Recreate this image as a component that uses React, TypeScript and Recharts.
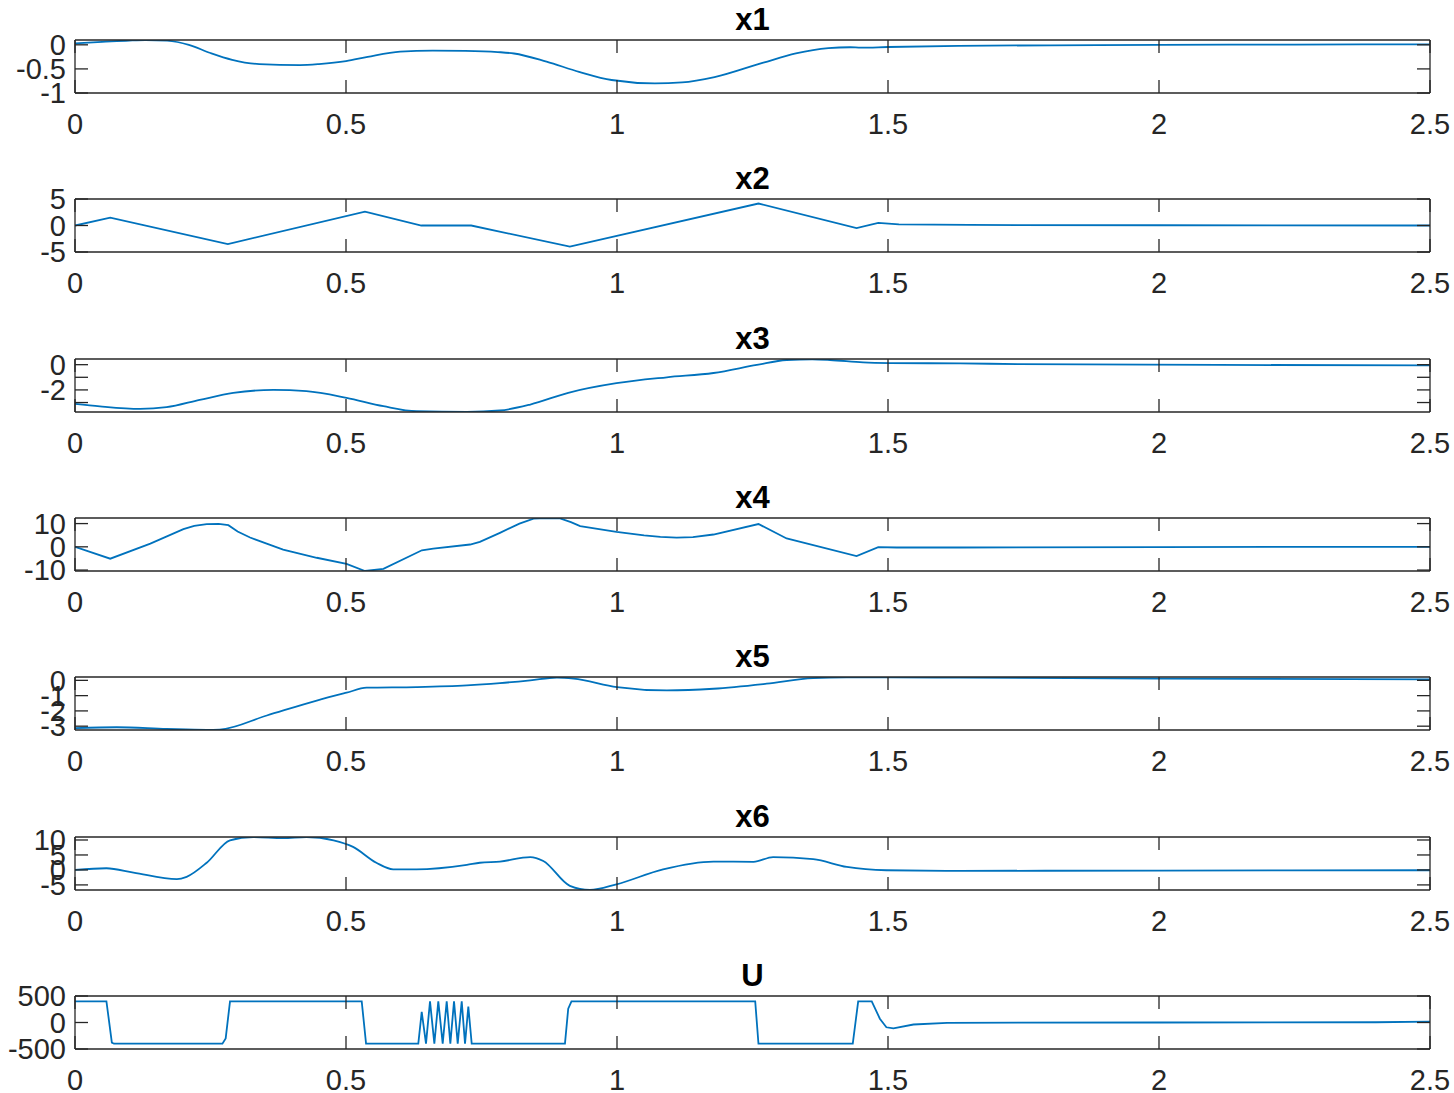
import React from "react";
import { LineChart, Line, XAxis, YAxis, Label } from "recharts";

// shared time axis ticks
const xTicks = [0, 0.5, 1, 1.5, 2, 2.5];

// x1
const x1Time = [0, 0.05, 0.1, 0.13, 0.17, 0.21, 0.25, 0.29, 0.34, 0.415, 0.45, 0.5, 0.54, 0.6, 0.66, 0.72, 0.78, 0.81, 0.87, 0.93, 0.99, 1.07, 1.12, 1.18, 1.27, 1.33, 1.39, 1.43, 1.45, 1.5, 1.63, 1.8, 2.0, 2.25, 2.5];
const x1Vals = [0.03, 0.06, 0.09, 0.1, 0.085, 0.0, -0.17, -0.31, -0.4, -0.42, -0.4, -0.34, -0.25, -0.14, -0.12, -0.125, -0.15, -0.18, -0.35, -0.56, -0.73, -0.8, -0.78, -0.67, -0.37, -0.18, -0.07, -0.05, -0.06, -0.045, -0.02, -0.01, 0.0, 0.005, 0.01];

// x2
const x2Time = [0, 0.065, 0.282, 0.535, 0.639, 0.731, 0.913, 1.261, 1.442, 1.482, 1.52, 1.65, 2.0, 2.5];
const x2Vals = [0, 1.5, -3.5, 2.6, 0, 0, -4.0, 4.15, -0.5, 0.5, 0.2, 0.1, 0.05, 0];

// x3
const x3Time = [0, 0.046, 0.12, 0.169, 0.23, 0.292, 0.366, 0.427, 0.501, 0.569, 0.63, 0.723, 0.784, 0.84, 0.91, 0.999, 1.092, 1.178, 1.258, 1.313, 1.36, 1.393, 1.454, 1.504, 1.633, 1.74, 2.11, 2.5];
const x3Vals = [-3.1, -3.3, -3.5, -3.37, -2.79, -2.24, -2.0, -2.1, -2.63, -3.29, -3.69, -3.74, -3.63, -3.16, -2.23, -1.47, -1.0, -0.66, -0.02, 0.37, 0.42, 0.37, 0.18, 0.13, 0.1, 0.05, -0.02, -0.05];

// x4
const x4Time = [0, 0.065, 0.139, 0.2, 0.22, 0.243, 0.265, 0.283, 0.3, 0.323, 0.384, 0.446, 0.501, 0.535, 0.569, 0.64, 0.661, 0.729, 0.747, 0.784, 0.82, 0.846, 0.87, 0.895, 0.915, 0.932, 0.999, 1.05, 1.08, 1.11, 1.14, 1.178, 1.261, 1.313, 1.442, 1.482, 1.516, 1.633, 2.0, 2.5];
const x4Vals = [0, -5.1, 1.4, 7.6, 9.0, 9.8, 9.9, 9.3, 6.6, 4.0, -1.2, -4.7, -7.3, -10.4, -9.5, -1.5, -0.8, 1.0, 2.1, 6.0, 10.0, 12.1, 12.4, 12.2, 10.6, 8.9, 6.4, 4.9, 4.3, 4.0, 4.2, 5.3, 9.8, 3.6, -4.0, -0.1, -0.3, -0.3, -0.1, 0];

// x5
const x5Time = [0, 0.077, 0.169, 0.243, 0.267, 0.354, 0.446, 0.501, 0.538, 0.63, 0.723, 0.784, 0.84, 0.889, 0.92, 1.0, 1.092, 1.178, 1.276, 1.362, 1.424, 1.504, 1.633, 2.0, 2.5];
const x5Vals = [-3.13, -3.07, -3.18, -3.24, -3.22, -2.3, -1.32, -0.81, -0.48, -0.44, -0.33, -0.18, 0.0, 0.18, 0.11, -0.44, -0.66, -0.55, -0.22, 0.15, 0.2, 0.2, 0.18, 0.12, 0.07];

// x6
const x6Time = [0, 0.058, 0.108, 0.188, 0.206, 0.243, 0.286, 0.329, 0.384, 0.427, 0.477, 0.513, 0.556, 0.587, 0.63, 0.723, 0.747, 0.784, 0.84, 0.864, 0.913, 0.95, 0.999, 1.085, 1.178, 1.252, 1.288, 1.362, 1.424, 1.497, 1.633, 2.0, 2.5];
const x6Vals = [0, 0.56, -0.9, -3.1, -2.3, 2.4, 9.9, 11, 10.6, 11, 9.9, 7.7, 2.4, 0.2, 0.2, 1.7, 2.4, 2.8, 4.3, 3.0, -5.3, -6.7, -4.8, 0.2, 2.8, 2.7, 4.3, 3.6, 1.0, -0.1, -0.3, -0.2, -0.1];

// U (control input)
const uTime = [0, 0.058, 0.068, 0.072, 0.272, 0.278, 0.286, 0.529, 0.537, 0.6334, 0.6397, 0.6476, 0.655, 0.663, 0.6703, 0.6784, 0.6858, 0.6925, 0.6993, 0.7061, 0.7135, 0.7196, 0.7257, 0.7319, 0.904, 0.91, 0.916, 1.255, 1.261, 1.435, 1.445, 1.47, 1.485, 1.497, 1.51, 1.547, 1.609, 2.0, 2.4, 2.5];
const uVals = [400, 400, -380, -400, -400, -300, 400, 400, -400, -400, 200, -400, 400, -400, 400, -400, 400, -400, 400, -400, 400, -400, 300, -400, -400, 260, 400, 400, -400, -400, 400, 400, 71, -90, -109, -38, -6, 0, 5, 15];

const BLUE = "#0072BD";
const INK = "#262626";
const FONT = '"Liberation Sans", Arial, Helvetica, sans-serif';

type PanelProps = {
  index: number;
  title: string;
  time: number[];
  vals: number[];
  domain: [number, number];
  ticks: number[];
  hideLabels?: number[];
  curve: "linear" | "monotone";
};

function Panel({ index, title, time, vals, domain, ticks, hideLabels = [], curve }: PanelProps) {
  const data = time.map((t, i) => ({ t, v: vals[i] }));
  const tickFont = { fill: INK, fontSize: 29, fontFamily: FONT };
  return (
    <div style={{ position: "absolute", left: 0, top: Math.round(index * 159.3) }}>
      <LineChart width={1454} height={159} data={data} margin={{ top: 39, right: 23, bottom: 26, left: 15 }}>
        <XAxis
          xAxisId="b"
          dataKey="t"
          type="number"
          domain={[0, 2.5]}
          ticks={xTicks}
          interval={0}
          height={40}
          tickSize={-13}
          tickMargin={33}
          stroke={INK}
          strokeWidth={1.3}
          tick={tickFont}
          allowDataOverflow
        />
        <XAxis
          xAxisId="top"
          orientation="top"
          dataKey="t"
          type="number"
          domain={[0, 2.5]}
          ticks={xTicks}
          interval={0}
          height={1}
          tickSize={-13}
          tickFormatter={() => ""}
          stroke={INK}
          strokeWidth={1.3}
          allowDataOverflow
        >
          <Label value={title} position="top" offset={9} style={{ fontSize: 31, fontWeight: "bold", fill: "#000", fontFamily: FONT }} />
        </XAxis>
        <YAxis
          yAxisId="l"
          type="number"
          domain={domain}
          ticks={ticks}
          interval={0}
          width={60}
          tickSize={-13}
          tickMargin={22}
          stroke={INK}
          strokeWidth={1.3}
          tick={tickFont}
          tickFormatter={(v: number) => (hideLabels.includes(v) ? "" : String(v))}
          allowDataOverflow
        />
        <YAxis
          yAxisId="r"
          orientation="right"
          type="number"
          domain={domain}
          ticks={ticks}
          interval={0}
          width={1}
          tickSize={-13}
          tickFormatter={() => ""}
          stroke={INK}
          strokeWidth={1.3}
          allowDataOverflow
        />
        <Line
          xAxisId="b"
          yAxisId="l"
          dataKey="v"
          type={curve}
          stroke={BLUE}
          strokeWidth={1.8}
          dot={false}
          isAnimationActive={false}
        />
      </LineChart>
    </div>
  );
}

export default function App() {
  return (
    <div style={{ position: "absolute", left: 0, top: 0, width: 1454, height: 1093, background: "#fff", overflow: "hidden" }}>
      <Panel index={0} title="x1" time={x1Time} vals={x1Vals} domain={[-1, 0.1]} ticks={[-1, -0.5, 0]} curve="monotone" />
      <Panel index={1} title="x2" time={x2Time} vals={x2Vals} domain={[-5, 5]} ticks={[-5, 0, 5]} curve="linear" />
      <Panel index={2} title="x3" time={x3Time} vals={x3Vals} domain={[-3.75, 0.45]} ticks={[-3, -2, -1, 0]} hideLabels={[-1, -3]} curve="monotone" />
      <Panel index={3} title="x4" time={x4Time} vals={x4Vals} domain={[-10.4, 12.4]} ticks={[-10, 0, 10]} curve="linear" />
      <Panel index={4} title="x5" time={x5Time} vals={x5Vals} domain={[-3.25, 0.22]} ticks={[-3, -2, -1, 0]} curve="monotone" />
      <Panel index={5} title="x6" time={x6Time} vals={x6Vals} domain={[-6.7, 11]} ticks={[-5, 0, 5, 10]} curve="monotone" />
      <Panel index={6} title="U" time={uTime} vals={uVals} domain={[-500, 500]} ticks={[-500, 0, 500]} curve="linear" />
    </div>
  );
}
